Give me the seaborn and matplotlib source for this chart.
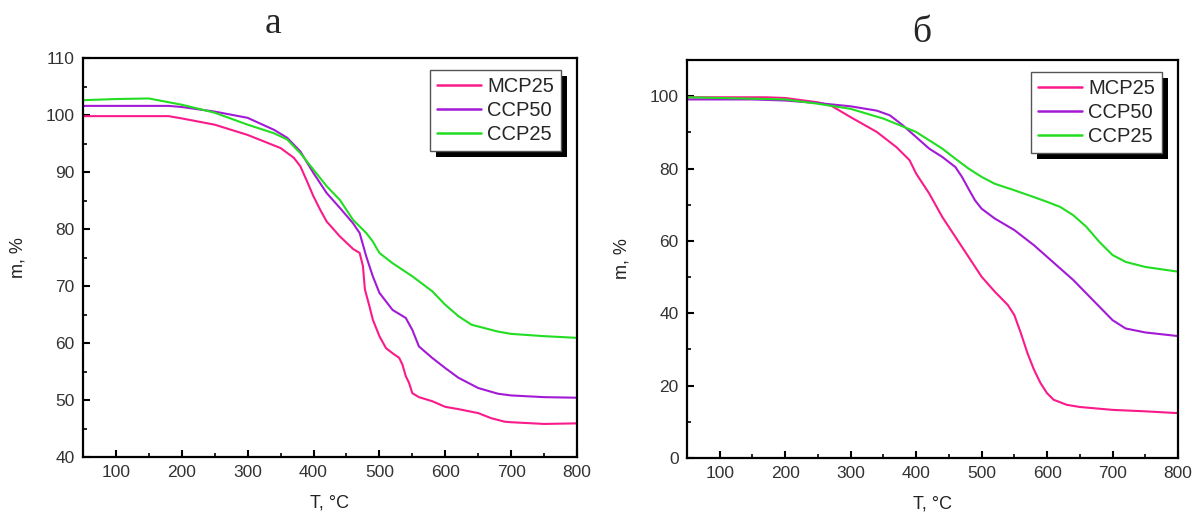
import matplotlib
matplotlib.use("Agg")
import matplotlib.pyplot as plt
import matplotlib.patches as mpatches
from matplotlib.ticker import MultipleLocator
import seaborn as sns
import pandas as pd

series = ["MCP25", "CCP50", "CCP25"]
colors = ["#fa1a8a", "#a21ad6", "#22dd22"]

# Panel a
a_mcp_T = [50, 100, 180, 200, 250, 300, 350, 370, 380, 390, 400, 410, 420, 440, 460, 470, 475, 478, 485, 490, 500, 510, 520, 530, 535, 540, 545, 550, 560, 580, 600, 620, 650, 670, 690, 700, 750, 800]
a_mcp_m = [99.8, 99.8, 99.8, 99.4, 98.3, 96.5, 94.2, 92.5, 91.0, 88.4, 85.7, 83.4, 81.3, 78.7, 76.5, 75.8, 73.5, 69.4, 66.4, 64.1, 61.2, 59.1, 58.2, 57.4, 56.2, 54.2, 53.0, 51.2, 50.5, 49.8, 48.8, 48.4, 47.7, 46.8, 46.2, 46.1, 45.8, 45.9]
a_c50_T = [50, 180, 200, 250, 300, 340, 360, 380, 400, 420, 440, 460, 470, 480, 490, 500, 520, 540, 550, 560, 580, 600, 620, 650, 680, 700, 750, 800]
a_c50_m = [101.6, 101.6, 101.4, 100.6, 99.5, 97.4, 96.0, 93.6, 89.8, 86.3, 83.7, 81.0, 79.3, 75.2, 71.7, 68.8, 65.8, 64.4, 62.3, 59.4, 57.4, 55.6, 53.9, 52.1, 51.1, 50.8, 50.5, 50.4]
a_c25_T = [50, 100, 150, 200, 250, 300, 340, 360, 380, 400, 420, 440, 460, 480, 490, 500, 520, 550, 580, 600, 620, 640, 660, 680, 700, 750, 800]
a_c25_m = [102.6, 102.8, 102.9, 101.8, 100.4, 98.3, 96.8, 95.7, 93.3, 90.4, 87.5, 85.1, 81.6, 79.3, 77.8, 75.8, 74.0, 71.7, 69.1, 66.7, 64.7, 63.2, 62.6, 62.0, 61.6, 61.2, 60.9]

# Panel b
b_mcp_T = [50, 170, 200, 250, 270, 300, 340, 370, 390, 400, 420, 440, 460, 480, 500, 520, 540, 550, 560, 570, 580, 590, 600, 610, 630, 650, 700, 750, 800]
b_mcp_m = [99.7, 99.7, 99.5, 98.3, 97.4, 94.2, 90.1, 85.9, 82.3, 78.6, 73.1, 66.6, 61.1, 55.6, 50.1, 46.0, 42.3, 39.5, 34.5, 29.0, 24.4, 20.7, 17.9, 16.1, 14.7, 14.1, 13.3, 12.9, 12.4]
b_c50_T = [50, 150, 200, 250, 300, 340, 360, 380, 400, 420, 440, 460, 470, 480, 490, 500, 520, 550, 580, 600, 620, 640, 660, 680, 700, 720, 750, 800]
b_c50_m = [99.1, 99.1, 98.8, 98.1, 97.2, 96.0, 94.7, 91.9, 88.7, 85.5, 83.2, 80.4, 77.7, 74.4, 71.2, 68.9, 66.2, 63.0, 58.8, 55.6, 52.4, 49.2, 45.5, 41.8, 38.1, 35.8, 34.7, 33.7]
b_c25_T = [50, 200, 250, 300, 350, 380, 400, 420, 440, 460, 480, 500, 520, 550, 580, 600, 620, 640, 660, 680, 700, 720, 750, 800]
b_c25_m = [99.7, 99.1, 97.9, 96.5, 93.8, 91.6, 90.1, 87.8, 85.5, 82.7, 80.0, 77.7, 75.8, 74.0, 72.1, 70.8, 69.4, 67.1, 63.9, 59.7, 56.1, 54.2, 52.8, 51.5]

panel_titles = ["а", "б"]
xlabel = "T, °C"
ylabel = "m, %"

def make_df(lst):
    rows = []
    for name, (T, m) in zip(series, lst):
        for t, v in zip(T, m):
            rows.append({"T": t, "m": v, "sample": name})
    return pd.DataFrame(rows)

df_a = make_df([(a_mcp_T, a_mcp_m), (a_c50_T, a_c50_m), (a_c25_T, a_c25_m)])
df_b = make_df([(b_mcp_T, b_mcp_m), (b_c50_T, b_c50_m), (b_c25_T, b_c25_m)])

sns.set_style("white")
plt.rcParams["font.family"] = ["Liberation Sans", "DejaVu Sans"]

fig = plt.figure(figsize=(11.96, 5.13), dpi=100)
ax_a = fig.add_axes([83/1196, 1-457/513, (577-83)/1196, (457-58)/513])
ax_b = fig.add_axes([687/1196, 1-458/513, (1178-687)/1196, (458-60)/513])

configs = [
    (ax_a, df_a, (40, 110), 10, 5),
    (ax_b, df_b, (0, 110), 20, 10),
]

legends = []
for ax, df, ylim, ymaj, ymin in configs:
    sns.lineplot(data=df, x="T", y="m", hue="sample", hue_order=series,
                 palette=colors, ax=ax, linewidth=1.5, estimator=None, sort=False)
    ax.set_xlim(50, 800)
    ax.set_ylim(*ylim)
    ax.xaxis.set_major_locator(MultipleLocator(100))
    ax.xaxis.set_minor_locator(MultipleLocator(50))
    ax.yaxis.set_major_locator(MultipleLocator(ymaj))
    ax.yaxis.set_minor_locator(MultipleLocator(ymin))
    ax.tick_params(which="both", direction="in", bottom=True, left=True,
                   top=False, right=False, colors="black", labelcolor="#333333",
                   labelsize=12.5)
    ax.tick_params(which="major", length=5, width=1.5, pad=6)
    ax.tick_params(which="minor", length=3, width=1.2)
    for s in ax.spines.values():
        s.set_color("black")
        s.set_linewidth(1.6)
    ax.set_xlabel(xlabel, fontsize=13, color="#222222", labelpad=10)
    ax.set_ylabel(ylabel, fontsize=13, color="#222222", labelpad=14)
    leg = ax.legend(loc="upper right", bbox_to_anchor=(0.98, 0.985), fontsize=14.5,
                    frameon=True, fancybox=False, edgecolor="#555555",
                    framealpha=1, handlelength=2.2, handletextpad=0.3,
                    borderpad=0.35, labelspacing=0.25, borderaxespad=0.3)
    leg.get_frame().set_linewidth(1.0)
    leg.set_zorder(6)
    for line in leg.get_lines():
        line.set_linewidth(1.8)
    legends.append((ax, leg))

serif = ["Liberation Serif", "DejaVu Serif"]
fig.text(273/1196, 1-33/513, panel_titles[0], fontsize=27, family=serif,
         ha="center", va="baseline")
fig.text(922/1196, 1-42/513, panel_titles[1], fontsize=27, family=serif,
         ha="center", va="baseline")

fig.canvas.draw()
for ax, leg in legends:
    bb = leg.get_window_extent()
    off = 6
    rect = mpatches.Rectangle((bb.x0 + off, bb.y0 - off), bb.width, bb.height,
                              transform=None, facecolor="black", edgecolor="none",
                              zorder=5.5)
    ax.add_artist(rect)

fig.savefig("out.png", dpi=100)
